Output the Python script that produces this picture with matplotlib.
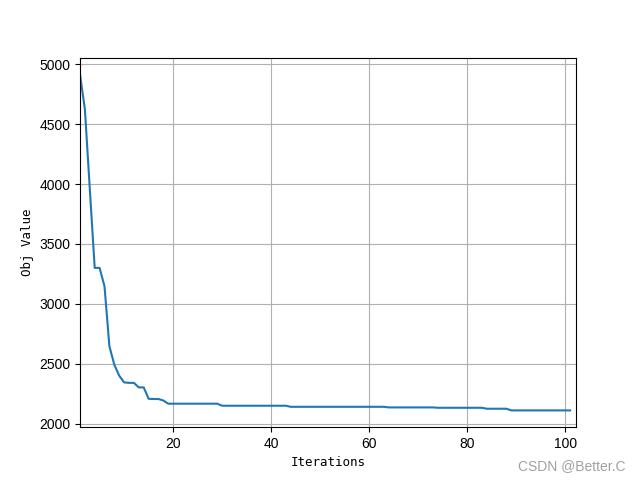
import matplotlib.pyplot as plt

# objective value per iteration
iterations = list(range(1, 102))
obj_values = ([4916, 4624, 3960, 3300, 3300, 3146, 2645, 2492, 2400, 2344,
               2340, 2340, 2302, 2302, 2207, 2205, 2205, 2193, 2166]
              + [2166] * 10      # 20-29
              + [2149] * 14      # 30-43
              + [2140] * 20      # 44-63
              + [2135] * 10      # 64-73
              + [2132] * 10      # 74-83
              + [2124] * 5       # 84-88
              + [2110] * 13)     # 89-101

fig, ax = plt.subplots(figsize=(6.4, 4.8), dpi=100)
ax.plot(iterations, obj_values, color="#1f77b4", linewidth=1.5)
ax.set_xlim(1, 102.2)
ax.grid(True)

ax.set_xlabel("Iterations", family="DejaVu Sans Mono", fontsize=9)
ax.set_ylabel("Obj Value", family="DejaVu Sans Mono", fontsize=9)
for lbl in ax.get_xticklabels() + ax.get_yticklabels():
    lbl.set_family("Liberation Sans")

# watermark
fig.text(0.977, 0.015, "CSDN @Better.C", color="#a0a0a0", fontsize=10,
         ha="right", va="bottom", family="Liberation Sans")

fig.savefig("out.png", dpi=100)
